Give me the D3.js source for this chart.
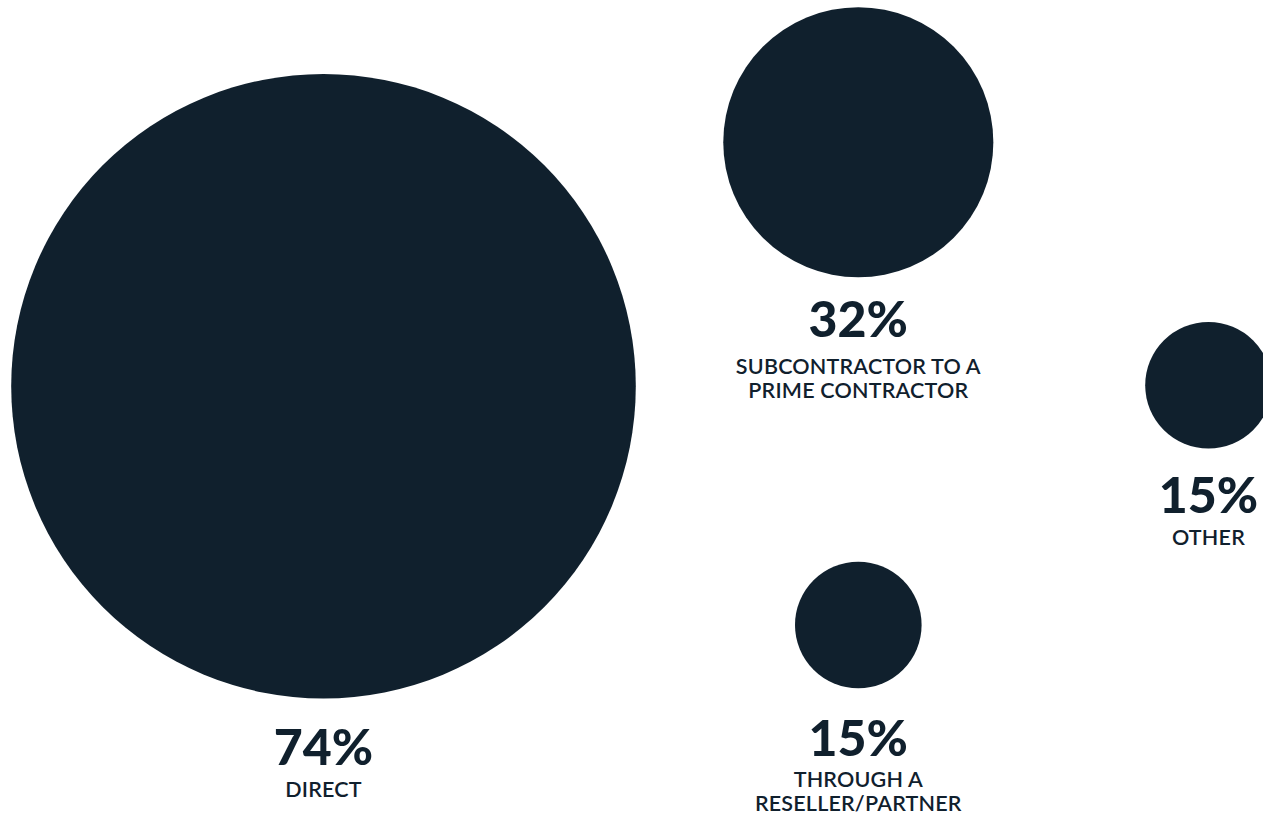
<!DOCTYPE html>
<html>
<head>
<meta charset="utf-8">
<script src="https://cdn.jsdelivr.net/npm/d3@7"></script>
<style>
  html, body { margin: 0; padding: 0; background: #ffffff; overflow: hidden; }
  svg { display: block; }
</style>
</head>
<body>
<div id="chart"></div>
<script>
// Share of contracts by channel
const categories = ["DIRECT", "SUBCONTRACTOR TO A|PRIME CONTRACTOR", "THROUGH A|RESELLER/PARTNER", "OTHER"];
const values = [74, 32, 15, 15];

// Bubble placement on the page (centres, figure baseline, caption baseline)
const layout = [
  { cx: 323.5, cy: 386.2, numY: 765, capY: 797 },
  { cx: 858.3, cy: 142.3, numY: 337, capY: 374 },
  { cx: 858.3, cy: 625.0, numY: 756, capY: 787 },
  { cx: 1208.5, cy: 385.3, numY: 513, capY: 545 }
];

const width = 1263, height = 815;
const ink = "#10202d";

const svg = d3.select("#chart").append("svg")
  .attr("width", width).attr("height", height);

// Radius grows linearly with the percentage
const r = d3.scaleLinear().domain([0, 74]).range([0, 312.3]);

const data = values.map((v, i) => ({
  value: v,
  lines: categories[i].split("|"),
  ...layout[i]
}));

const g = svg.selectAll("g.bubble").data(data).join("g").attr("class", "bubble");

g.append("circle")
  .attr("cx", d => d.cx)
  .attr("cy", d => d.cy)
  .attr("r", d => r(d.value))
  .attr("fill", ink);

g.append("text")
  .attr("x", d => d.cx)
  .attr("y", d => d.numY)
  .attr("text-anchor", "middle")
  .attr("fill", ink)
  .style("font-family", "Lato, 'Open Sans', sans-serif")
  .style("font-weight", 900)
  .style("font-size", "50px")
  .text(d => d3.format("d")(d.value) + "%");

g.each(function (d) {
  const t = d3.select(this).append("text")
    .attr("text-anchor", "middle")
    .attr("fill", ink)
    .style("font-family", "Lato, 'Open Sans', sans-serif")
    .style("font-weight", 600)
    .style("font-size", "21.5px")
    .style("letter-spacing", "0.2px");
  d.lines.forEach((line, j) => {
    t.append("tspan")
      .attr("x", d.cx)
      .attr("y", d.capY + j * 24)
      .text(line);
  });
});
</script>
</body>
</html>
